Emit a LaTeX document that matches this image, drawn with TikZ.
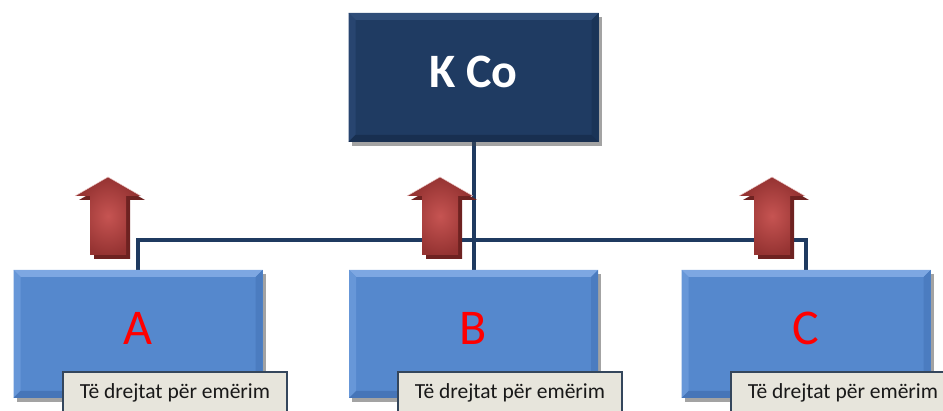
\documentclass[tikz,border=0pt]{standalone}
\usepackage{fontspec}
\setmainfont{Carlito}
\usetikzlibrary{shadows}

\definecolor{navyface}{HTML}{1F3B62}
\definecolor{navytop}{HTML}{2F4D78}
\definecolor{navyleft}{HTML}{284570}
\definecolor{navyright}{HTML}{1A3457}
\definecolor{navybottom}{HTML}{182F50}
\definecolor{blueface}{HTML}{5588CD}
\definecolor{bluetop}{HTML}{7DA7E2}
\definecolor{blueleft}{HTML}{6797D8}
\definecolor{blueright}{HTML}{4B7CC0}
\definecolor{bluebottom}{HTML}{4675B8}
\definecolor{wire}{HTML}{1F3A60}
\definecolor{tagfill}{HTML}{E7E5DC}
\definecolor{tagline}{HTML}{34465C}
\definecolor{arrowlight}{HTML}{C65452}
\definecolor{arrowdark}{HTML}{953332}
\definecolor{arrowshade}{HTML}{6E2221}

% bevelled faces around a rectangular node: node, depth, top, left, right, bottom
\newcommand\bevelfaces[6]{%
  \fill[#3] (#1.north west) -- (#1.north east) -- ([xshift=-#2,yshift=-#2]#1.north east) -- ([xshift=#2,yshift=-#2]#1.north west) -- cycle;
  \fill[#4] (#1.north west) -- ([xshift=#2,yshift=-#2]#1.north west) -- ([xshift=#2,yshift=#2]#1.south west) -- (#1.south west) -- cycle;
  \fill[#5] (#1.north east) -- ([xshift=-#2,yshift=-#2]#1.north east) -- ([xshift=-#2,yshift=#2]#1.south east) -- (#1.south east) -- cycle;
  \fill[#6] (#1.south west) -- ([xshift=#2,yshift=#2]#1.south west) -- ([xshift=-#2,yshift=#2]#1.south east) -- (#1.south east) -- cycle;
}

\tikzset{
  boxshadow/.style={drop shadow={shadow xshift=3pt, shadow yshift=-4pt, opacity=.3, fill=black!70}},
  headbox/.style={boxshadow, fill=navyface, minimum width=250pt, minimum height=129pt,
    inner sep=0pt, outer sep=0pt},
  unitbox/.style={boxshadow, fill=blueface, minimum width=249pt, minimum height=128pt,
    inner sep=0pt, outer sep=0pt},
  headtext/.style={text=white, font=\bfseries\fontsize{48}{56}\selectfont},
  unittext/.style={text=red, font=\fontsize{50}{58}\selectfont},
  tagbox/.style={fill=tagfill, draw=tagline, line width=1.2pt, minimum width=224pt,
    minimum height=42pt, inner sep=0pt, outer sep=0pt, text=black!90, font=\fontsize{21.5}{25}\selectfont},
  wireline/.style={draw=wire, line width=4pt},
}

\begin{document}
\begin{tikzpicture}[x=1pt,y=-1pt]
\useasboundingbox (0,0) rectangle (943,411);
\clip (0,0) rectangle (943,411);

% connector bus level
\coordinate (bus) at (0,240);

% boxes (placed first so the wires can refer to them)
\node[headbox] (K) at (473.5,77.5) {};
\node[unitbox] (A) at (138,334) {};
\node[unitbox] (B) at (473.5,334) {};
\node[unitbox] (C) at (806,334) {};

% wires
\draw[wireline] (K.south) -- (B.north);
\draw[wireline] (A.north) -- (A.north |- bus) -- (C.north |- bus) -- (C.north);

% redraw boxes above the wire ends
\node[headbox] at (K) {};
\bevelfaces{K}{7pt}{navytop}{navyleft}{navyright}{navybottom}
\node[headtext] (Ktext) at ([yshift=6pt]K.center) {K Co};

\foreach \n in {A,B,C}{
  \node[unitbox] at (\n) {};
  \bevelfaces{\n}{7pt}{bluetop}{blueleft}{blueright}{bluebottom}
  \node[unittext] (\n text) at ([yshift=6pt]\n.center) {\n};
}

% title tags
\node[tagbox] (tagA) at (175,393) {Të drejtat për emërim};
\node[tagbox] (tagB) at (510,393) {Të drejtat për emërim};
\node[tagbox] (tagC) at (843,393) {Të drejtat për emërim};

% upward arrows
\foreach \cx in {108,440,772}{
  \begin{scope}[shift={(\cx,0)}]
    \fill[arrowshade] (4,181) -- (37,200) -- (22,200) -- (22,259) -- (-14,259) -- (-14,200) -- (-29,200) -- cycle;
    \shade[inner color=arrowlight, outer color=arrowdark]
      (0,177) -- (33,196) -- (18,196) -- (18,255) -- (-18,255) -- (-18,196) -- (-33,196) -- cycle;
    \draw[white!70!arrowlight, line width=.5pt]
      (-33,196) -- (0,177) -- (33,196);
  \end{scope}
}
\end{tikzpicture}
\end{document}
